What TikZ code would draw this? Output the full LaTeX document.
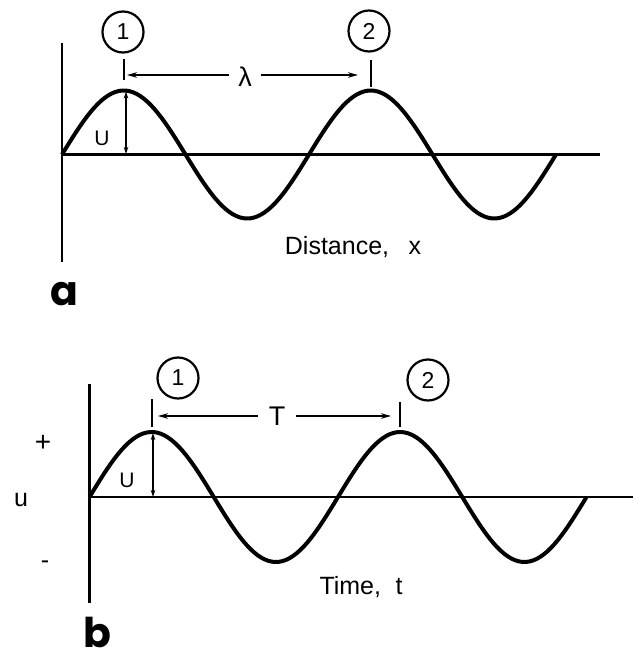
\documentclass[tikz,border=0pt]{standalone}
\usepackage{fontspec}
\setmainfont{Liberation Sans}
\newfontfamily\heavy{Poppins}
\usetikzlibrary{arrows.meta}
\begin{document}
\begin{tikzpicture}[x=1pt,y=-1pt,
  axis/.style={line width=2.3pt},
  wave/.style={line width=4pt, line join=round},
  numcirc/.style={draw, circle, line width=2.2pt, minimum size=41pt, inner sep=0pt, font=\fontsize{23}{23}\selectfont},
  tickline/.style={line width=2.2pt},
  dimarrow/.style={line width=1.5pt, -{Stealth[length=10pt,width=5.5pt]}},
  amparrow/.style={line width=1.5pt, {Stealth[length=7pt,width=4.5pt]}-{Stealth[length=7pt,width=4.5pt]}},
  lbl/.style={font=\fontsize{25}{25}\selectfont, inner sep=0pt},
  ulbl/.style={font=\fontsize{21}{21}\selectfont, inner sep=0pt},
  dimlbl/.style={font=\fontsize{27}{27}\selectfont, inner sep=9pt},
  panel/.style={font=\heavy\bfseries\fontsize{41}{41}\selectfont, inner sep=0pt}]
\useasboundingbox (0,0) rectangle (633,658);
\fill[white] (0,0) rectangle (633,658);

% ---------------- panel a ----------------
\coordinate (a0) at (62,154.5);
\coordinate (atop) at (62,43);
\coordinate (abot) at (62,262);
\coordinate (aend) at (600,154.5);
\draw[axis] (atop) -- (abot);
\draw[axis] (a0) -- (aend);
\draw[wave] plot[domain=0:494,samples=140] ({62+\x},{154.5-64*sin(\x/247*360)});

\node[numcirc] (ca1) at (123,32) {1};
\node[numcirc] (ca2) at (369,31) {2};
\coordinate (ta1t) at (123.75,59);
\coordinate (ta1b) at (123.75,80);
\coordinate (ta2t) at (370.75,60);
\coordinate (ta2b) at (370.75,87);
\draw[tickline] (ta1t) -- (ta1b);
\draw[tickline] (ta2t) -- (ta2b);
\node[dimlbl] (lam) at (245,77) {λ};
\coordinate (la) at (127,75);
\coordinate (ra) at (358,75);
\draw[dimarrow] (lam.west |- la) -- (la);
\draw[dimarrow] (lam.east |- ra) -- (ra);

\coordinate (uat) at (126,91.5);
\coordinate (uab) at (126,154);
\draw[amparrow] (uat) -- (uab);
\node[ulbl] (Ua) at (102,138) {U};
\node[lbl] (dist) at (353,247) {Distance,\hspace{0.5em} x};
\node[panel] (pa) at (64,294.5) {a};

% ---------------- panel b ----------------
\coordinate (b0) at (89.5,497);
\coordinate (btop) at (89.5,384);
\coordinate (bbot) at (89.5,603);
\coordinate (bend) at (633,497);
\draw[axis] (btop) -- (bbot);
\draw[axis] (b0) -- (bend);
\draw[wave] plot[domain=0:497,samples=140] ({89.5+\x},{497-65*sin(\x/248.5*360)});

\node[numcirc] (cb1) at (178,378) {1};
\node[numcirc] (cb2) at (428,380) {2};
\coordinate (tb1t) at (151.6,399);
\coordinate (tb1b) at (151.6,427);
\coordinate (tb2t) at (400.1,402);
\coordinate (tb2b) at (400.1,427);
\draw[tickline] (tb1t) -- (tb1b);
\draw[tickline] (tb2t) -- (tb2b);
\node[dimlbl, inner sep=11pt] (Tl) at (277,416) {T};
\coordinate (lb) at (158,416);
\coordinate (rb) at (391,416);
\draw[dimarrow] (Tl.west) -- (lb);
\draw[dimarrow] (Tl.east) -- (rb);

\coordinate (ubt) at (153,433);
\coordinate (ubb) at (153,497);
\draw[amparrow] (ubt) -- (ubb);
\node[ulbl] (Ub) at (127,480) {U};
\node[lbl, font=\fontsize{28}{28}\selectfont] (plus) at (43,443) {+};
\node[lbl] (ulab) at (21,500) {u};
\node[lbl] (minus) at (45,565) {-};
\node[lbl] (time) at (361,587) {Time,\hspace{0.3em} t};
\node[panel] (pb) at (97,632) {b};
\end{tikzpicture}
\end{document}
